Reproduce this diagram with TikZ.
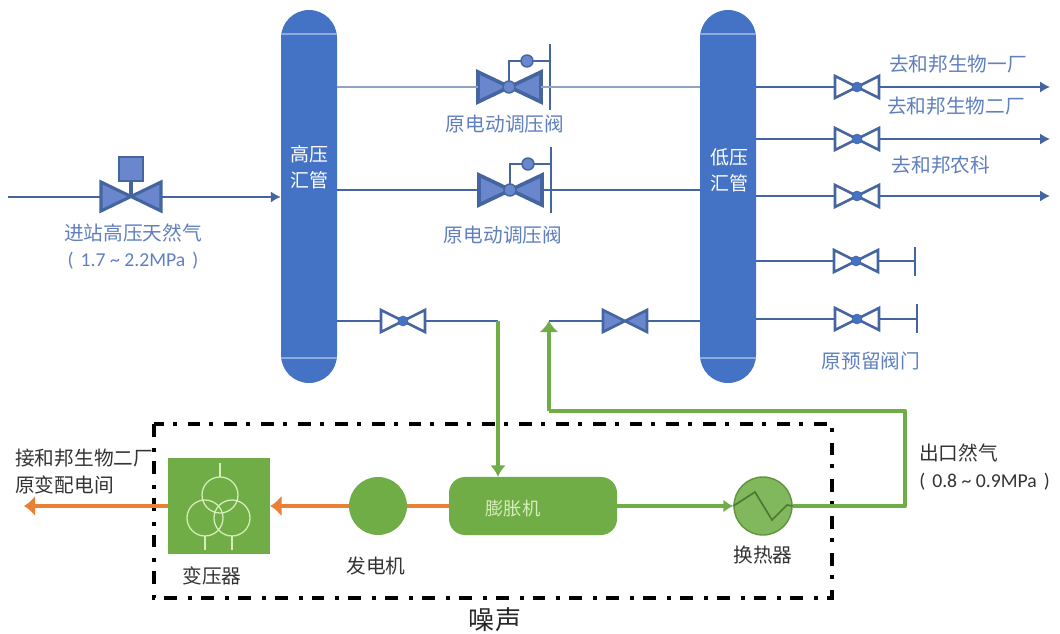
\documentclass[tikz,border=0pt]{standalone}
\usepackage{fontspec}
\setmainfont{Noto Sans CJK SC}
\newfontfamily\latinfont{Carlito}
\usetikzlibrary{arrows.meta}
\definecolor{pipeblue}{HTML}{44659F}
\definecolor{drumblue}{HTML}{4472C4}
\definecolor{fillblue}{HTML}{6A86CC}
\definecolor{textblue}{HTML}{5F7FBE}
\definecolor{seamblue}{HTML}{8FAADC}
\definecolor{plantgreen}{HTML}{70AD47}
\definecolor{linegreen}{HTML}{D5EDB8}
\definecolor{powerorange}{HTML}{E98035}
\newcommand{\pressure}[1]{{\latinfont\fontsize{14}{18}\selectfont (\hspace{5pt}#1\hspace{5pt})}}
\tikzset{
  pipe/.style={draw=pipeblue,line width=1.6pt},
  pipeend/.style={pipe,-{Latex[length=7pt,width=8pt]}},
  gas/.style={draw=plantgreen,line width=3.2pt},
  power/.style={draw=powerorange,line width=3.2pt},
  drum/.style={draw=none,fill=drumblue,minimum width=14mm,minimum height=93.25mm,rounded corners=7mm,inner sep=0pt},
  drumtext/.style={text=white,font=\fontsize{13.5}{18.5}\selectfont,align=center,inner sep=0pt},
  plant/.style={draw=none,fill=plantgreen,inner sep=0pt},
  bluetext/.style={text=textblue,font=\fontsize{14}{18.5}\selectfont,align=center,inner sep=0pt},
  darktext/.style={text=black!80,font=\fontsize{14}{19}\selectfont,align=left,inner sep=0pt},
  hand/.pic={
    \path[draw=pipeblue,line width=1.8pt,fill=white] (-22,-11) -- (22,11) -- (22,-11) -- (-22,11) -- cycle;
    \path[draw=pipeblue,fill=drumblue] (0,0) circle (5);
    \coordinate (-w) at (-22,0);
    \coordinate (-e) at (22,0);
  },
  shut/.pic={
    \path[draw=pipeblue,line width=1.8pt,fill=fillblue] (-22,-11) -- (22,11) -- (22,-11) -- (-22,11) -- cycle;
    \coordinate (-w) at (-22,0);
    \coordinate (-e) at (22,0);
  },
  motor/.pic={
    \path[draw=pipeblue,line width=2pt] (0,0) -- (0,-26) -- (41,-26);
    \path[draw=pipeblue,line width=2pt] (41,-43) -- (41,23);
    \path[draw=pipeblue,line width=2.6pt,fill=fillblue] (-31,-15) -- (32,15) -- (32,-15) -- (-31,15) -- cycle;
    \path[draw=pipeblue,line width=1pt,fill=fillblue] (0,0) circle (6) (18,-26) circle (6);
    \coordinate (-w) at (-31,0);
    \coordinate (-e) at (32,0);
  }
}
\begin{document}
\begin{tikzpicture}[x=0.25mm,y=-0.25mm]
\useasboundingbox (0,0) rectangle (1060,634);

% columns
\node[drum] (hp) at (309,196.5) {};
\node[drum] (lp) at (728,196.5) {};
\node[drumtext] (hptext) at (309,167) {高压\\汇管};
\node[drumtext] (lptext) at (729,170) {低压\\汇管};
\path[draw=seamblue,line width=1pt] (hp.west |- 0,34) -- (hp.east |- 0,34);
\path[draw=seamblue,line width=1pt] (hp.west |- 0,358) -- (hp.east |- 0,358);
\path[draw=seamblue,line width=1pt] (lp.west |- 0,34) -- (lp.east |- 0,34);
\path[draw=seamblue,line width=1pt] (lp.west |- 0,358) -- (lp.east |- 0,358);

% inlet
\coordinate (gasin) at (8,197);
\path[draw=pipeblue,line width=2.2pt,fill=fillblue] (101,182) -- (161,211) -- (161,182) -- (101,211) -- cycle;
\node[draw=pipeblue,line width=1.4pt,fill=fillblue,minimum size=6mm,inner sep=0pt] (act) at (131,169) {};
\coordinate (vinc) at (131,197);
\coordinate (vinw) at (101,197);
\coordinate (vine) at (161,197);
\path[draw=pipeblue,line width=2.2pt] (act) -- (vinc);
\path[pipe] (gasin) -- (vinw);
\path[pipeend] (vine) -- (hp.west |- vine);
\node[bluetext] (intext) at (133,247) {进站高压天然气\\\pressure{1.7 {\char126} 2.2MPa}};

% regulating valves
\pic (m1) at (509,87) {motor};
\pic (m2) at (510,190) {motor};
\path[draw=pipeblue!60,line width=1.4pt] (hp.east |- m1-w) -- (m1-w);
\path[draw=pipeblue!60,line width=1.4pt] (m1-e) -- (lp.west |- m1-e);
\path[pipe] (hp.east |- m2-w) -- (m2-w);
\path[pipe] (m2-e) -- (lp.west |- m2-e);
\node[bluetext] (m1text) at (505,124) {原电动调压阀};
\node[bluetext] (m2text) at (503,235) {原电动调压阀};

% outlets
\coordinate (out1) at (1050,87);
\coordinate (out2) at (1050,139);
\coordinate (out3) at (1050,196);
\pic (o1) at (857,87) {hand};
\pic (o2) at (857,139) {hand};
\pic (o3) at (857,196) {hand};
\pic (o4) at (856,261) {hand};
\pic (o5) at (857,319) {hand};
\path[pipe] (lp.east |- o1-w) -- (o1-w);
\path[pipe] (lp.east |- o2-w) -- (o2-w);
\path[pipe] (lp.east |- o3-w) -- (o3-w);
\path[pipe] (lp.east |- o4-w) -- (o4-w);
\path[pipe] (lp.east |- o5-w) -- (o5-w);
\path[pipeend] (o1-e) -- (out1);
\path[pipeend] (o2-e) -- (out2);
\path[pipeend] (o3-e) -- (out3);
\coordinate (cap4) at (915,261);
\coordinate (cap5) at (917,319);
\path[pipe] (o4-e) -- (cap4);
\path[pipe] (o5-e) -- (cap5);
\path[draw=pipeblue,line width=1.2pt] (915,247) -- (915,276);
\path[draw=pipeblue,line width=1.2pt] (917,304) -- (917,333);
\node[bluetext] (t1) at (958,64) {去和邦生物一厂};
\node[bluetext] (t2) at (956,106) {去和邦生物二厂};
\node[bluetext] (t3) at (941,165) {去和邦农科};
\node[bluetext] (t4) at (871,361) {原预留阀门};

% bypass
\pic (b1) at (403,321) {hand};
\pic (b2) at (625,321) {shut};
\coordinate (turnin) at (498,321);
\coordinate (turnout) at (549,321);
\path[pipe] (hp.east |- b1-w) -- (b1-w);
\path[pipe] (b1-e) -- (turnin);
\path[pipe] (lp.west |- b2-e) -- (b2-e);
\path[pipe] (b2-w) -- (turnout);

% noise box
\path[draw=black,line width=2.4pt,dash pattern=on 9.2pt off 7.8pt on 2.8pt off 6.4pt] (154,424) rectangle (832,598);
\node[text=black!85,font=\fontsize{18.5}{20}\selectfont,inner sep=0pt] (noise) at (495,620) {噪声};

% plant
\node[plant,rounded corners=4mm,minimum width=42mm,minimum height=14.5mm] (exp) at (533,506) {};
\node[text=linegreen,font=\fontsize{13}{16}\selectfont,inner sep=0pt] (exptext) at (513,509) {膨胀机};
\node[plant,circle,minimum size=14.5mm] (gen) at (378,506) {};
\node[plant,minimum width=25.5mm,minimum height=24mm] (tr) at (219,506) {};
\node[draw=plantgreen!85!black,line width=1pt,fill=plantgreen!88!white,circle,minimum size=14.5mm,inner sep=0pt] (hx) at (763,506) {};
\path[draw=plantgreen!70!black,line width=1.2pt] (hx.west) -- (755,492) -- (772,520) -- (787,505) -- (hx.east);
\path[draw=linegreen,line width=0.9pt] (220,495) circle (18) (205,518) circle (18) (232,518) circle (18);
\path[draw=linegreen,line width=0.9pt] (220,463) -- (220,477) (205,536) -- (205,550) (232,536) -- (232,550);
\node[darktext] (trtext) at (212,576) {变压器};
\node[darktext] (gentext) at (376,566) {发电机};
\node[darktext] (hxtext) at (763,555) {换热器};

\coordinate (corner1) at (905,506);
\coordinate (corner2) at (905,411);
\coordinate (corner3) at (549,411);
\coordinate (grid) at (24,506);
\path[gas,-{Latex[length=8pt,width=11pt]}] (turnin) -- (turnin |- exp.north);
\path[draw=plantgreen,line width=2.4pt,-{Latex[length=7pt,width=9pt]}] (exp.east) -- (hx.west);
\path[gas,line width=3.4pt,line join=round] (hx.east) -- (corner1) -- (corner2) -- (corner3);
\path[gas,line width=3.4pt,-{Latex[length=8pt,width=14pt]}] (corner3) -- (turnout);
\path[power] (exp.west) -- (gen.east);
\path[power,-{Latex[length=8pt,width=15pt]}] (gen.west) -- (tr.east);
\path[power,-{Latex[length=8pt,width=15pt]}] (tr.west) -- (grid);

\node[darktext,anchor=north west] (gridtext) at (15,449) {接和邦生物二厂\\原变配电间};
\node[darktext,anchor=north west] (outtext) at (919,444) {出口然气\\\pressure{0.8 {\char126} 0.9MPa}};
\end{tikzpicture}
\end{document}
